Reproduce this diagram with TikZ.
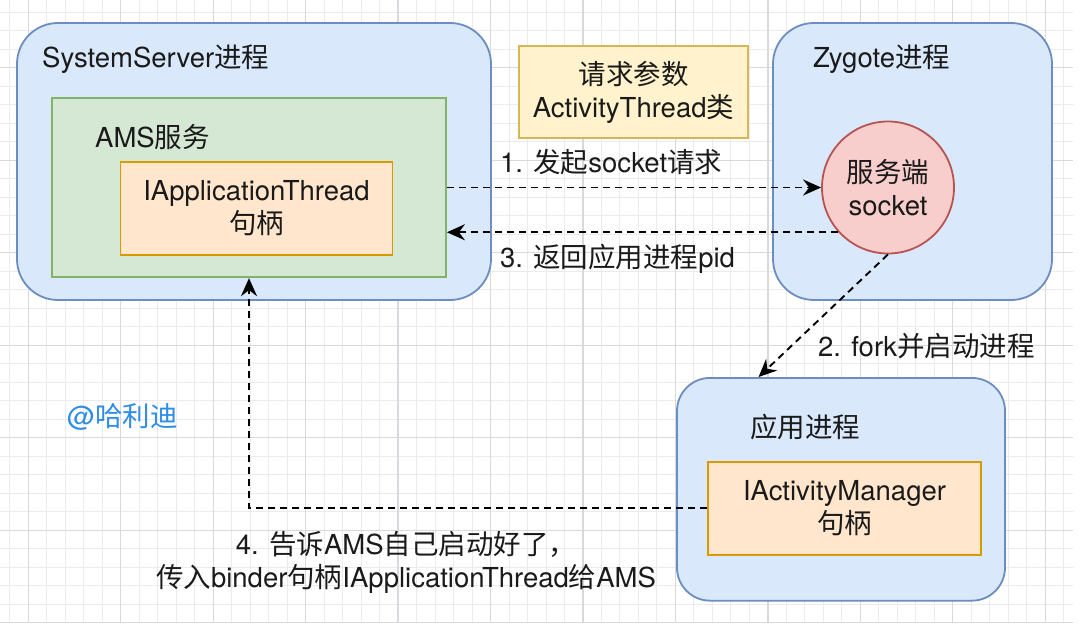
\documentclass[tikz,border=0pt]{standalone}
\usepackage{fontspec}
\setmainfont{TeX Gyre Heros}
\newfontfamily\zh{Noto Sans CJK SC}
\usetikzlibrary{arrows.meta,calc}
\definecolor{bluefill}{HTML}{DAE8FC}
\definecolor{bluedraw}{HTML}{6C8EBF}
\definecolor{greenfill}{HTML}{D5E8D4}
\definecolor{greendraw}{HTML}{82B366}
\definecolor{orangefill}{HTML}{FFE6CC}
\definecolor{orangedraw}{HTML}{D79B00}
\definecolor{yellowfill}{HTML}{FFF2CC}
\definecolor{yellowdraw}{HTML}{D6B656}
\definecolor{redfill}{HTML}{F8CECC}
\definecolor{reddraw}{HTML}{B85450}
\definecolor{gridminor}{HTML}{EBEBEE}
\definecolor{gridmajor}{HTML}{D9D9DD}
\definecolor{wmblue}{RGB}{45,140,230}
\definecolor{ink}{HTML}{1A1A1A}
\begin{document}
\begin{tikzpicture}[x=1bp,y=-1bp,
  font=\fontsize{27.5bp}{33bp}\selectfont,
  every node/.style={text=ink},
  procbox/.style={draw=bluedraw, fill=bluefill, line width=1.8bp, rounded corners=#1, inner sep=0pt},
  procbox/.default=41bp,
  svcbox/.style={draw=greendraw, fill=greenfill, line width=1.8bp, inner sep=0pt},
  handlebox/.style={draw=orangedraw, fill=orangefill, line width=1.8bp, inner sep=0pt, align=center},
  notebox/.style={draw=yellowdraw, fill=yellowfill, line width=1.8bp, inner sep=0pt, align=center},
  sockbox/.style={circle, draw=reddraw, fill=redfill, line width=1.8bp, inner sep=0pt, align=center},
  lbl/.style={anchor=base west, inner sep=0pt},
  conn/.style={draw=black, line width=1.9bp, dash pattern=on 7bp off 5bp,
    -{Stealth[length=18bp,width=16bp,inset=6bp]}},
  gminor/.style={draw=gridminor, line width=1bp},
  gmajor/.style={draw=gridmajor, line width=1.3bp}
]
\useasboundingbox (0,0) rectangle (1080,637);
\fill[white] (0,0) rectangle (1080,637);
% grid
\foreach \i in {0,...,57} \draw[gminor] ({9.8+18.49*\i},0) -- ({9.8+18.49*\i},623);
\foreach \i in {0,...,33} \draw[gminor] (0,{12.3+18.5*\i}) -- (1073,{12.3+18.5*\i});
\foreach \i in {0,...,11} \draw[gmajor] ({28.3+92.45*\i},0) -- ({28.3+92.45*\i},623);
\foreach \i in {0,...,6} \draw[gmajor] (0,{67.8+92.5*\i}) -- (1073,{67.8+92.5*\i});

% SystemServer process
\node[procbox, minimum width=474bp, minimum height=277bp] (ss) at (254,161.5) {};
\node[lbl] (ssl) at (42,68) {SystemServer{\zh 进程}};
\node[svcbox, minimum width=394bp, minimum height=179.5bp] (gr) at (249,187.5) {};
\node[lbl] (amsl) at (95,148) {AMS{\zh 服务}};
\node[handlebox, minimum width=272bp, minimum height=93.3bp] (iat) at (256.5,208.4) {IApplicationThread\\{\zh 句柄}};

% note
\node[notebox, minimum width=229bp, minimum height=92bp] (note) at (633.5,92) {{\zh 请求参数}\\ActivityThread{\zh 类}};

% Zygote process
\node[procbox, minimum width=279bp, minimum height=277bp] (zy) at (912.5,161.5) {};
\node[lbl] (zyl) at (813,68) {Zygote{\zh 进程}};
\node[sockbox, minimum size=132bp] (sock) at (888,187.5) {{\zh 服务端}\\socket};

% App process
\node[procbox=33bp, minimum width=328bp, minimum height=222.7bp] (app) at (841,489.3) {};
\node[lbl] (appl) at (750,437) {\zh 应用进程};
\node[handlebox, minimum width=273bp, minimum height=93.3bp] (iam) at (844.5,508.4) {IActivityManager\\{\zh 句柄}};

% watermark
\node[lbl, text=wmblue] (wm) at (67,426) {@{\zh 哈利迪}};

% connectors
\draw[conn] (gr.east) -- (sock.west);
\draw[conn] (sock.222) -- (sock.222 -| gr.east);
\draw[conn] (sock.south) -- ($(app.north west)!0.25!(app.north east)$);
\draw[conn] (iam.west) -| (gr.south);

% connector labels
\node[lbl] (l1) at (500,173) {1. {\zh 发起}socket{\zh 请求}};
\node[lbl] (l3) at (500,268) {3. {\zh 返回应用进程}pid};
\node[lbl] (l2) at (818,356) {2. fork{\zh 并启动进程}};
\node[align=center, inner sep=0pt] (l4) at (406,562) {4. {\zh 告诉}AMS{\zh 自己启动好了，}\\{\zh 传入}binder{\zh 句柄}IApplicationThread{\zh 给}AMS};
\end{tikzpicture}
\end{document}
